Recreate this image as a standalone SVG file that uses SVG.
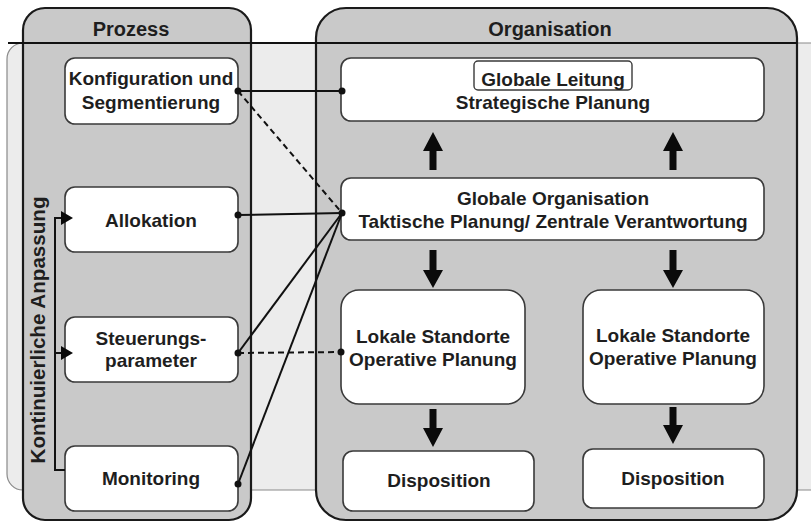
<svg xmlns="http://www.w3.org/2000/svg" width="811" height="522" viewBox="0 0 811 522">
<defs>
<style>
text{font-family:"Liberation Sans",Arial,sans-serif;font-weight:bold;fill:#1e1e1e;text-anchor:middle;font-size:19px}
.title{font-size:20px}
.vlabel{font-size:20.6px}
.node{fill:#fff;stroke:#3a3a3a;stroke-width:1.6}
.cont{fill:#c9c9c9;stroke:#1a1a1a;stroke-width:2.2}
.con{stroke:#111;stroke-width:2;fill:none}
.dash{stroke:#111;stroke-width:2;fill:none;stroke-dasharray:6 4}
.dot{fill:#111}
.big{fill:#0a0a0a}
</style>
</defs>
<rect x="7" y="43" width="820" height="447" rx="16" fill="#ececec" stroke="#8a8a8a" stroke-width="1.2"/>
<g id="prozess">
<rect class="cont" x="23" y="8" width="228" height="512" rx="22"/>
<text class="title" x="131" y="36">Prozess</text>
</g>
<g id="organisation">
<rect class="cont" x="316" y="8" width="481" height="512" rx="30"/>
<text class="title" x="550" y="36">Organisation</text>
</g>
<line x1="8" y1="43" x2="797" y2="43" stroke="#111" stroke-width="2"/>
<g id="label-anpassung">
<text class="vlabel" x="0" y="0" transform="translate(45,330) rotate(-90)">Kontinuierliche Anpassung</text>
</g>
<g id="konfiguration">
<rect class="node" x="65" y="58" width="173" height="66" rx="10"/>
<text x="151" y="85">Konfiguration und</text>
<text x="151" y="109">Segmentierung</text>
</g>
<g id="allokation">
<rect class="node" x="65" y="187" width="173" height="65" rx="10"/>
<text x="151" y="227">Allokation</text>
</g>
<g id="steuerung">
<rect class="node" x="65" y="317" width="173" height="65" rx="10"/>
<text x="151" y="345">Steuerungs-</text>
<text x="151" y="367">parameter</text>
</g>
<g id="monitoring">
<rect class="node" x="65" y="446" width="173" height="65" rx="10"/>
<text x="151" y="485">Monitoring</text>
</g>
<g id="globale-leitung">
<rect class="node" x="341" y="58" width="423" height="63" rx="10"/>
<rect x="474" y="61" width="158" height="29" rx="4" fill="#fff" stroke="#3a3a3a" stroke-width="1.4"/>
<text x="553" y="86">Globale Leitung</text>
<text x="553" y="109">Strategische Planung</text>
</g>
<g id="globale-organisation">
<rect class="node" x="341" y="178" width="423" height="62" rx="10"/>
<text x="553" y="205">Globale Organisation</text>
<text x="553" y="228">Taktische Planung/ Zentrale Verantwortung</text>
</g>
<g id="lokal1">
<rect class="node" x="341" y="290" width="184" height="114" rx="18"/>
<text x="433" y="343">Lokale Standorte</text>
<text x="433" y="366">Operative Planung</text>
</g>
<g id="lokal2">
<rect class="node" x="583" y="290" width="181" height="114" rx="18"/>
<text x="673" y="342">Lokale Standorte</text>
<text x="673" y="365">Operative Planung</text>
</g>
<g id="dispo1">
<rect class="node" x="343" y="451" width="191" height="60" rx="10"/>
<text x="439" y="487">Disposition</text>
</g>
<g id="dispo2">
<rect class="node" x="583" y="449" width="181" height="59" rx="10"/>
<text x="673" y="485">Disposition</text>
</g>
<g id="connectors">
<line class="con" x1="238" y1="91" x2="342" y2="91"/>
<line class="dash" x1="238" y1="91" x2="342" y2="213"/>
<line class="con" x1="238" y1="215" x2="342" y2="213"/>
<line class="con" x1="238" y1="353" x2="342" y2="213"/>
<line class="dash" x1="238" y1="353" x2="341" y2="352"/>
<line class="con" x1="238" y1="484" x2="342" y2="213"/>
<circle class="dot" cx="238" cy="91" r="3.5"/>
<circle class="dot" cx="342" cy="91" r="3.5"/>
<circle class="dot" cx="238" cy="215" r="3.5"/>
<circle class="dot" cx="342" cy="213" r="3.5"/>
<circle class="dot" cx="238" cy="353" r="3.5"/>
<circle class="dot" cx="341" cy="352" r="3.5"/>
<circle class="dot" cx="238" cy="484" r="3.5"/>
<polyline class="con" points="65,470 55,470 55,218 62,218"/>
<line class="con" x1="55" y1="353" x2="62" y2="353"/>
<path class="big" d="M61,211 L73,218 L61,225 z"/>
<path class="big" d="M61,346 L73,353 L61,360 z"/>
<path class="big" d="M429.5,170 L436.5,170 L436.5,151 L443,151 L433,132 L423,151 L429.5,151 z"/>
<path class="big" d="M669.5,170 L676.5,170 L676.5,151 L683,151 L673,132 L663,151 L669.5,151 z"/>
<path class="big" d="M429.5,250 L436.5,250 L436.5,270 L443,270 L433,288 L423,270 L429.5,270 z"/>
<path class="big" d="M669.5,250 L676.5,250 L676.5,270 L683,270 L673,288 L663,270 L669.5,270 z"/>
<path class="big" d="M429.5,409 L436.5,409 L436.5,428 L443,428 L433,447 L423,428 L429.5,428 z"/>
<path class="big" d="M669.5,407 L676.5,407 L676.5,425 L683,425 L673,444 L663,425 L669.5,425 z"/>
</g>
</svg>
